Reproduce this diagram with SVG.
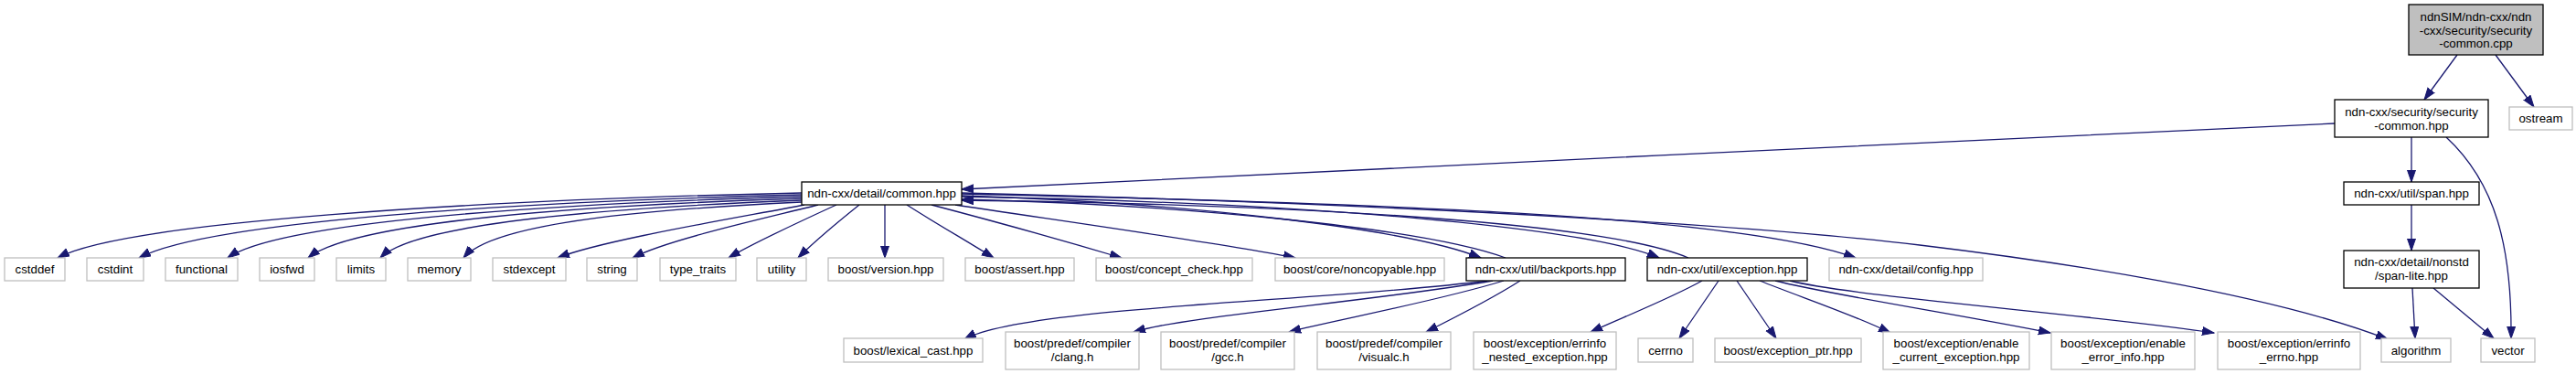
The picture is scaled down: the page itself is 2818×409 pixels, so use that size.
<svg xmlns="http://www.w3.org/2000/svg" width="2818" height="409" viewBox="0 0 2818 409">
<style>
.bg{fill:#ffffff}
.ext rect{fill:#ffffff;stroke:#bfbfbf;stroke-width:1.3}
.doc rect{fill:#ffffff;stroke:#000000;stroke-width:1.3}
.cur rect{fill:#bfbfbf;stroke:#000000;stroke-width:1.3}
text{font-family:"Liberation Sans",Arial,Helvetica,sans-serif;font-size:13.3px;fill:#000000;text-anchor:middle}
#edges path{fill:none;stroke:#191970;stroke-width:1.3;marker-end:url(#arr)}
</style>
<defs>
<marker id="arr" markerUnits="userSpaceOnUse" markerWidth="14" markerHeight="11" refX="13" refY="5" orient="auto">
<path d="M0,0.5 L13,5 L0,9.5 z" fill="#191970" stroke="#191970" stroke-width="1"/>
</marker>
</defs>
<rect class="bg" x="0" y="0" width="2818" height="409"/>
<g id="edges">
<path d="M2688,60 L2652,109"/>
<path d="M2730,60 L2772,117"/>
<path d="M2554,135 C2100,156 1500,185 1052,207"/>
<path d="M2638,150 L2638,199"/>
<path d="M2676,150 C2730,200 2748,270 2747,370"/>
<path d="M2638,224 L2638,274"/>
<path d="M2639,315 L2642,370"/>
<path d="M2662,315 L2728,370"/>
<path d="M877,211 C511,219 136,243 63,282"/>
<path d="M877,213 C550,221 225,243 152,282"/>
<path d="M877,215 C590,223 305,243 249,282"/>
<path d="M877,217 C630,225 385,243 337,282"/>
<path d="M877,219 C670,227 455,243 416,282"/>
<path d="M877,221 C710,229 540,243 507,282"/>
<path d="M880,224 C820,236 660,262 610,282"/>
<path d="M895,224 C840,238 730,262 692,282"/>
<path d="M915,224 C880,240 820,268 797,282"/>
<path d="M940,224 C920,240 890,265 873,282"/>
<path d="M968,224 L968,282"/>
<path d="M992,224 C1020,242 1060,265 1087,282"/>
<path d="M1019,224 C1080,240 1180,268 1227,282"/>
<path d="M1045,224 C1150,240 1350,268 1417,282"/>
<path d="M1052,214 C1300,222 1540,250 1620,282"/>
<path d="M1647,282 C1560,250 1300,224 1052,218"/>
<path d="M1052,215 C1450,222 1740,250 1815,282"/>
<path d="M1847,282 C1760,245 1450,224 1052,219"/>
<path d="M1052,212 C1500,222 1900,235 2030,282"/>
<path d="M1052,211 C1600,225 1950,250 2100,268 C2250,286 2480,320 2612,371"/>
<path d="M1627,307 C1450,330 1120,335 1055,371"/>
<path d="M1633,307 C1500,330 1300,345 1240,363"/>
<path d="M1645,307 C1570,330 1460,350 1410,363"/>
<path d="M1663,307 C1630,328 1590,348 1560,363"/>
<path d="M1862,307 C1830,325 1780,345 1740,363"/>
<path d="M1880,307 L1837,370"/>
<path d="M1900,307 L1943,370"/>
<path d="M1925,307 C1970,325 2030,345 2068,364"/>
<path d="M1942,307 C2000,322 2150,345 2243,364"/>
<path d="M1958,307 C2030,325 2300,345 2422,364"/>
</g>
<g id="n_top" class="cur"><rect x="2635" y="5" width="147" height="55"/><text x="2708.5" y="23">ndnSIM/ndn-cxx/ndn</text><text x="2708.5" y="37.5">-cxx/security/security</text><text x="2708.5" y="52">-common.cpp</text></g>
<g id="n_seccommon" class="doc"><rect x="2554" y="109" width="168" height="41"/><text x="2638" y="126.5">ndn-cxx/security/security</text><text x="2638" y="141.5">-common.hpp</text></g>
<g id="n_ostream" class="ext"><rect x="2745" y="117" width="69" height="25"/><text x="2779.5" y="134">ostream</text></g>
<g id="n_common" class="doc"><rect x="877" y="199" width="175" height="25"/><text x="964.5" y="216">ndn-cxx/detail/common.hpp</text></g>
<g id="n_span" class="doc"><rect x="2564" y="199" width="148" height="25"/><text x="2638" y="216">ndn-cxx/util/span.hpp</text></g>
<g id="n_cstddef" class="ext"><rect x="5" y="282" width="66" height="25"/><text x="38" y="299">cstddef</text></g>
<g id="n_cstdint" class="ext"><rect x="95" y="282" width="62" height="25"/><text x="126" y="299">cstdint</text></g>
<g id="n_functional" class="ext"><rect x="181" y="282" width="79" height="25"/><text x="220.5" y="299">functional</text></g>
<g id="n_iosfwd" class="ext"><rect x="284" y="282" width="60" height="25"/><text x="314" y="299">iosfwd</text></g>
<g id="n_limits" class="ext"><rect x="368" y="282" width="54" height="25"/><text x="395" y="299">limits</text></g>
<g id="n_memory" class="ext"><rect x="446" y="282" width="69" height="25"/><text x="480.5" y="299">memory</text></g>
<g id="n_stdexcept" class="ext"><rect x="539" y="282" width="80" height="25"/><text x="579" y="299">stdexcept</text></g>
<g id="n_string" class="ext"><rect x="642" y="282" width="55" height="25"/><text x="669.5" y="299">string</text></g>
<g id="n_type_traits" class="ext"><rect x="722" y="282" width="83" height="25"/><text x="763.5" y="299">type_traits</text></g>
<g id="n_utility" class="ext"><rect x="828" y="282" width="54" height="25"/><text x="855" y="299">utility</text></g>
<g id="n_version" class="ext"><rect x="906" y="282" width="126" height="25"/><text x="969" y="299">boost/version.hpp</text></g>
<g id="n_assert" class="ext"><rect x="1056" y="282" width="119" height="25"/><text x="1115.5" y="299">boost/assert.hpp</text></g>
<g id="n_concept" class="ext"><rect x="1199" y="282" width="171" height="25"/><text x="1284.5" y="299">boost/concept_check.hpp</text></g>
<g id="n_noncopyable" class="ext"><rect x="1395" y="282" width="185" height="25"/><text x="1487.5" y="299">boost/core/noncopyable.hpp</text></g>
<g id="n_backports" class="doc"><rect x="1604" y="282" width="174" height="25"/><text x="1691" y="299">ndn-cxx/util/backports.hpp</text></g>
<g id="n_exception" class="doc"><rect x="1802" y="282" width="175" height="25"/><text x="1889.5" y="299">ndn-cxx/util/exception.hpp</text></g>
<g id="n_config" class="ext"><rect x="2001" y="282" width="168" height="25"/><text x="2085" y="299">ndn-cxx/detail/config.hpp</text></g>
<g id="n_spanlite" class="doc"><rect x="2564" y="274" width="148" height="41"/><text x="2638" y="291">ndn-cxx/detail/nonstd</text><text x="2638" y="306">/span-lite.hpp</text></g>
<g id="n_lexical" class="ext"><rect x="923" y="370" width="152" height="26"/><text x="999" y="387.5">boost/lexical_cast.hpp</text></g>
<g id="n_clang" class="ext"><rect x="1100" y="363" width="146" height="41"/><text x="1173" y="380">boost/predef/compiler</text><text x="1173" y="395">/clang.h</text></g>
<g id="n_gcc" class="ext"><rect x="1270" y="363" width="146" height="41"/><text x="1343" y="380">boost/predef/compiler</text><text x="1343" y="395">/gcc.h</text></g>
<g id="n_visualc" class="ext"><rect x="1441" y="363" width="146" height="41"/><text x="1514" y="380">boost/predef/compiler</text><text x="1514" y="395">/visualc.h</text></g>
<g id="n_nested" class="ext"><rect x="1612" y="363" width="156" height="41"/><text x="1690" y="380">boost/exception/errinfo</text><text x="1690" y="395">_nested_exception.hpp</text></g>
<g id="n_cerrno" class="ext"><rect x="1792" y="370" width="60" height="26"/><text x="1822" y="387.5">cerrno</text></g>
<g id="n_exptr" class="ext"><rect x="1876" y="370" width="160" height="26"/><text x="1956" y="387.5">boost/exception_ptr.hpp</text></g>
<g id="n_enable_current" class="ext"><rect x="2060" y="363" width="160" height="41"/><text x="2140" y="380">boost/exception/enable</text><text x="2140" y="395">_current_exception.hpp</text></g>
<g id="n_enable_error" class="ext"><rect x="2244" y="363" width="157" height="41"/><text x="2322.5" y="380">boost/exception/enable</text><text x="2322.5" y="395">_error_info.hpp</text></g>
<g id="n_errno" class="ext"><rect x="2426" y="363" width="156" height="41"/><text x="2504" y="380">boost/exception/errinfo</text><text x="2504" y="395">_errno.hpp</text></g>
<g id="n_algorithm" class="ext"><rect x="2605" y="370" width="76" height="26"/><text x="2643" y="387.5">algorithm</text></g>
<g id="n_vector" class="ext"><rect x="2714" y="370" width="59" height="26"/><text x="2743.5" y="387.5">vector</text></g>
</svg>
